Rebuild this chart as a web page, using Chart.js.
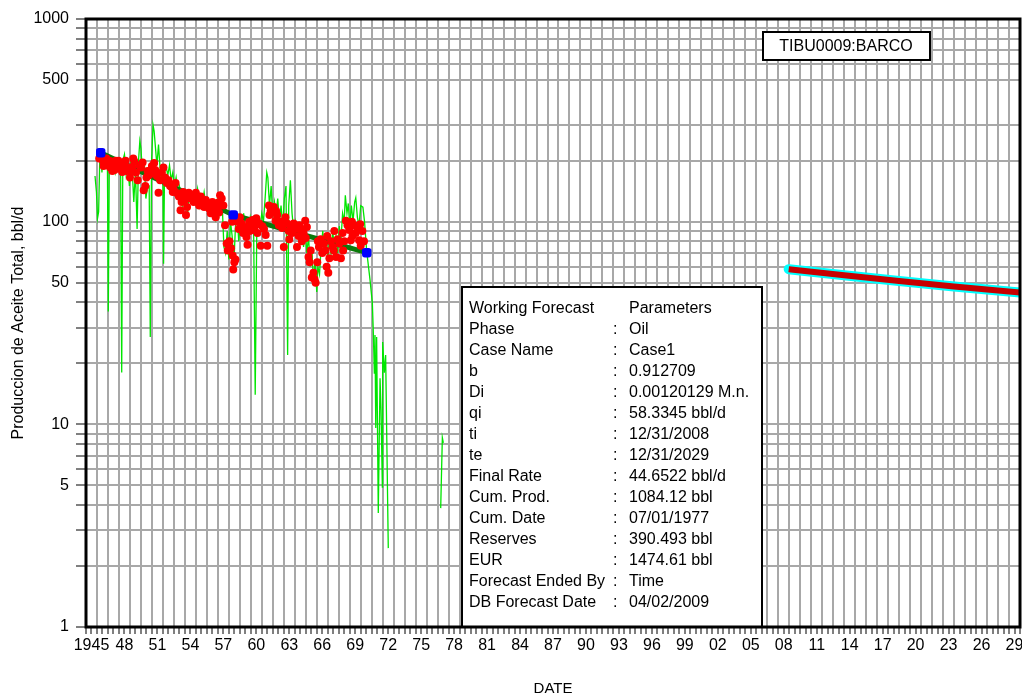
<!DOCTYPE html>
<html>
<head>
<meta charset="utf-8">
<script src="https://cdn.jsdelivr.net/npm/chart.js@4.4.0/dist/chart.umd.min.js"></script>
<style>
html,body{margin:0;padding:0;background:#fff;}
#wrap{width:1022px;height:696px;position:relative;}
</style>
</head>
<body>
<div id="wrap"><canvas id="c"></canvas></div>
<script>
// monthly oil rate, bbl/d  [decimal year, rate]
const oilRate = [
[1945.82,168],[1945.95,140],[1946.05,104],[1946.15,112],[1946.25,200],[1946.35,215],[1946.45,175],[1946.55,210],
[1946.65,190],[1946.8,200],[1946.95,185],[1947.03,36],[1947.12,190],[1947.25,205],[1947.4,185],[1947.55,200],
[1947.7,175],[1947.85,195],[1948.0,180],[1948.15,190],[1948.25,18],[1948.35,200],[1948.5,215],[1948.65,170],
[1948.8,190],[1948.95,150],[1949.1,200],[1949.25,160],[1949.35,125],[1949.5,180],[1949.65,92],[1949.78,200],
[1949.9,250],[1950.0,230],[1950.15,170],[1950.3,200],[1950.45,130],[1950.6,150],[1950.75,150],[1950.85,27],
[1950.97,200],[1951.1,300],[1951.2,280],[1951.3,240],[1951.45,190],[1951.6,240],[1951.75,180],[1951.9,160],
[1952.0,170],[1952.06,62],[1952.15,180],[1952.3,185],[1952.45,170],[1952.6,190],[1952.75,160],[1952.9,175],
[1953.05,150],[1953.2,165],[1953.35,140],[1953.5,150],[1953.65,135],[1953.8,120],[1953.95,140],[1954.1,130],
[1954.25,110],[1954.4,135],[1954.55,140],[1954.7,125],[1954.85,140],[1955.0,130],[1955.15,145],[1955.3,120],
[1955.45,135],[1955.6,125],[1955.75,140],[1955.9,120],[1956.05,130],[1956.2,115],[1956.35,125],[1956.5,110],
[1956.65,120],[1956.8,105],[1956.95,130],[1957.1,110],[1957.25,135],[1957.4,120],[1957.55,75],[1957.7,70],
[1957.85,90],[1958.0,65],[1958.15,100],[1958.3,85],[1958.45,60],[1958.6,95],[1958.75,110],[1958.9,80],
[1959.05,100],[1959.2,95],[1959.35,110],[1959.5,85],[1959.65,100],[1959.8,90],[1959.95,105],[1960.1,95],
[1960.25,100],[1960.4,14],[1960.55,100],[1960.7,105],[1960.85,95],[1961.0,110],[1961.15,100],[1961.3,130],
[1961.45,175],[1961.55,165],[1961.7,120],[1961.85,150],[1962.0,105],[1962.15,125],[1962.3,110],[1962.45,130],
[1962.6,100],[1962.75,120],[1962.9,95],[1963.05,130],[1963.2,150],[1963.35,22],[1963.45,120],[1963.6,160],
[1963.75,110],[1963.9,90],[1964.05,100],[1964.2,85],[1964.35,95],[1964.5,80],[1964.65,100],[1964.8,75],
[1964.95,90],[1965.1,70],[1965.25,85],[1965.4,60],[1965.55,75],[1965.7,50],[1965.85,65],[1966.0,45],
[1966.1,60],[1966.25,55],[1966.4,75],[1966.55,90],[1966.7,70],[1966.85,85],[1967.0,65],[1967.15,80],
[1967.3,70],[1967.45,90],[1967.6,75],[1967.75,85],[1967.9,70],[1968.05,95],[1968.2,80],[1968.35,110],
[1968.5,100],[1968.6,135],[1968.75,110],[1968.87,123],[1969.0,95],[1969.15,120],[1969.3,100],[1969.45,125],
[1969.55,131],[1969.7,105],[1969.85,95],[1970.0,120],[1970.2,118],[1970.35,100],[1970.54,72],[1970.85,51.5],
[1971.06,39.7],[1971.15,28.2],[1971.24,17.9],[1971.3,27.6],[1971.37,9.6],[1971.45,27],[1971.6,3.65],[1971.76,16.9],
[1971.85,11.8],[1971.97,4.9],[1972.0,25.5],[1972.15,18],[1972.27,22],[1972.51,2.45],
[1975.0,null],
[1977.28,3.86],[1977.43,8.6],[1977.52,8.1]
];

// filtered points used for the decline fit
const fitPoints = [
[1946.2,205],[1946.4,212],[1946.55,200],[1946.7,195],[1946.85,205],[1947.0,190],[1947.1,200],[1947.2,185],
[1947.3,198],[1947.45,192],[1947.6,180],[1947.7,200],[1947.85,188],[1948.0,195],[1948.15,182],[1948.3,176],
[1948.45,190],[1948.6,200],[1948.8,185],[1949.0,165],[1949.1,178],[1949.3,205],[1949.4,198],[1949.55,175],
[1949.7,160],[1949.85,190],[1950.0,185],[1950.15,196],[1950.25,143],[1950.4,150],[1950.6,178],[1950.75,170],
[1950.9,180],[1951.05,175],[1951.2,195],[1951.3,180],[1951.45,168],[1951.6,139],[1951.75,160],[1951.9,175],
[1952.05,185],[1952.2,165],[1952.35,155],[1952.5,160],[1952.65,150],[1952.8,148],[1953.0,143],[1953.15,155],
[1953.3,138],[1953.45,133],[1953.6,114],[1953.7,125],[1953.85,140],[1954.0,128],[1954.1,108],[1954.2,118],
[1954.35,139],[1954.5,130],[1954.65,135],[1954.8,125],[1955.0,139],[1955.15,128],[1955.3,120],[1955.45,133],
[1955.6,126],[1955.75,118],[1955.9,128],[1956.05,122],[1956.2,116],[1956.35,110],[1956.5,125],[1956.65,112],
[1956.8,105],[1956.95,118],[1957.1,111],[1957.2,135],[1957.35,130],[1957.5,120],[1957.65,96],[1957.8,78],
[1957.9,72],[1958.05,80],[1958.2,74],[1958.35,68],[1958.5,63],[1958.6,65],[1958.3,100],[1958.55,105],
[1958.75,100],[1958.9,92],[1959.0,105],[1959.15,98],[1959.3,88],[1959.45,94],[1959.6,84],[1959.7,77],
[1959.85,100],[1960.0,97],[1960.15,102],[1960.3,91],[1960.45,96],[1960.6,88],[1960.75,98],[1960.9,76],
[1961.05,95],[1961.2,92],[1961.35,86],[1961.5,76],[1961.65,120],[1961.8,113],[1961.95,111],[1962.1,118],
[1962.25,101],[1962.4,108],[1962.55,96],[1962.7,100],[1962.85,93],[1963.0,75],[1963.15,105],[1963.3,98],
[1963.45,90],[1963.6,95],[1963.75,88],[1963.9,98],[1964.05,92],[1964.2,75],[1964.35,85],[1964.5,92],
[1964.65,80],[1964.8,88],[1964.95,101],[1965.1,94],[1965.25,67],[1965.35,63],[1965.45,72],[1965.55,53],
[1965.7,56],[1965.8,52],[1965.9,50],[1966.05,63],[1966.2,75],[1966.35,82],[1966.5,70],[1966.65,78],
[1966.8,72],[1966.95,85],[1967.05,56],[1967.15,66],[1967.3,80],[1967.45,75],[1967.6,90],[1967.75,67],
[1967.9,82],[1968.05,78],[1968.2,66],[1968.35,88],[1968.5,80],[1968.65,101],[1968.8,96],[1968.95,91],
[1969.1,81],[1969.25,85],[1969.4,96],[1969.55,88],[1969.7,93],[1969.85,81],[1970.0,76],[1970.15,90],[1970.3,80],
[1946.3,208],[1946.6,188],[1947.4,178],[1947.95,200],[1948.7,178],[1949.2,186],[1950.5,165],[1951.0,188],
[1952.9,140],[1953.95,130],[1954.9,136],[1955.55,122],[1956.45,118],[1957.0,124],[1958.4,58],[1959.9,90],
[1960.5,104],[1961.7,108],[1962.3,113],[1963.5,82],[1964.4,96],[1965.0,83],[1966.1,80],[1966.9,60],
[1967.55,72],[1968.4,72],[1969.2,100],[1969.95,97]
];

// decline fit and its anchor points
const fitLine = [[1946.34,219],[1958.4,108],[1970.55,70.3]];
// working forecast, ti 12/31/2008 to te 12/31/2029
const forecast = [[2008.95,58.3],[2014.0,54.4],[2019.0,51.0],[2024.0,47.9],[2030.0,44.65]];

const labelYears = [1945,1948,1951,1954,1957,1960,1963,1966,1969,1972,1975,1978,1981,1984,1987,
  1990,1993,1996,1999,2002,2005,2008,2011,2014,2017,2020,2023,2026,2029];
const labelTexts = ['1945','48','51','54','57','60','63','66','69','72','75','78','81','84','87',
  '90','93','96','99','02','05','08','11','14','17','20','23','26','29'];
const yGridValues = [1,2,3,4,5,6,7,8,9,10,20,30,40,50,60,70,80,90,100,200,300,500,600,700,800,900,1000];
const yLabelValues = [1,5,10,50,100,500,1000];

const infoNames = ['Working Forecast','Phase','Case Name','b','Di','qi','ti','te','Final Rate',
  'Cum. Prod.','Cum. Date','Reserves','EUR','Forecast Ended By','DB Forecast Date'];
const infoValues = ['Parameters','Oil','Case1','0.912709','0.00120129 M.n.','58.3345 bbl/d','12/31/2008',
  '12/31/2029','44.6522 bbl/d','1084.12 bbl','07/01/1977','390.493 bbl','1474.61 bbl','Time','04/02/2009'];
const wellName = 'TIBU0009:BARCO';

const xy = arr => arr.map(p => ({x: p[0], y: p[1]}));
const FONT = '"Liberation Sans", Arial, sans-serif';
Chart.defaults.font.family = FONT;
Chart.defaults.font.size = 16;
Chart.defaults.color = '#000';

const xTicks = [];
for (let i = 0; i <= 170; i++) xTicks.push(1945 + i * 0.5);

const extras = {
  id: 'extras',
  afterDraw(chart) {
    const ctx = chart.ctx, a = chart.chartArea;
    ctx.save();
    // forecast parameter box
    ctx.fillStyle = '#fff';
    ctx.fillRect(462, 287, 300, a.bottom - 287);
    ctx.strokeStyle = '#000';
    ctx.lineWidth = 2;
    ctx.strokeRect(462, 287, 300, a.bottom - 287);
    ctx.fillStyle = '#000';
    ctx.font = '16px ' + FONT;
    ctx.textBaseline = 'middle';
    infoNames.forEach((n, i) => {
      const y = 309 + i * 21;
      ctx.fillText(n, 469, y);
      if (i > 0) ctx.fillText(':', 613, y);
      ctx.fillText(infoValues[i], 629, y);
    });
    // well name box
    ctx.fillStyle = '#fff';
    ctx.fillRect(763, 32, 167, 28);
    ctx.strokeRect(763, 32, 167, 28);
    ctx.fillStyle = '#000';
    ctx.textAlign = 'center';
    ctx.fillText(wellName, 846, 46.5);
    // frame
    ctx.lineWidth = 3;
    ctx.strokeRect(a.left, a.top, a.right - a.left, a.bottom - a.top);
    ctx.restore();
  }
};

new Chart(document.getElementById('c'), {
  type: 'line',
  data: {
    datasets: [
      { data: xy(fitLine), showLine: false, pointStyle: 'rectRounded', pointRadius: 5.5,
        pointBackgroundColor: '#0000ff', pointBorderWidth: 0 },
      { data: xy(fitPoints), showLine: false, pointRadius: 4,
        pointBackgroundColor: '#ff0000', pointBorderWidth: 0 },
      { data: xy(fitLine), borderColor: '#0b7a0b', borderWidth: 5, pointRadius: 0 },
      { data: xy(oilRate), borderColor: '#00e600', borderWidth: 1.3, pointRadius: 0, spanGaps: false },
      { data: xy(forecast), borderColor: '#c80000', borderWidth: 6, pointRadius: 0 },
      { data: xy(forecast), borderColor: '#00ffff', borderWidth: 10, pointRadius: 0, borderCapStyle: 'round' }
    ]
  },
  options: {
    animation: false,
    responsive: true,
    maintainAspectRatio: false,
    layout: { autoPadding: false, padding: { top: 19, right: 2, left: 0, bottom: 0 } },
    plugins: { legend: { display: false }, tooltip: { enabled: false } },
    scales: {
      x: {
        type: 'linear', min: 1945, max: 2030, offset: false,
        afterBuildTicks: s => { s.ticks = xTicks.map(v => ({value: v})); },
        afterFit: s => { s.height = 69; s.paddingRight = 0; s.paddingLeft = 0; },
        border: { display: false },
        grid: {
          color: c => (c.tick && c.tick.value % 1 === 0) ? '#a8a8a8' : 'rgba(0,0,0,0)',
          lineWidth: 2, tickColor: '#000', tickWidth: 1, tickLength: 7
        },
        ticks: {
          autoSkip: false, maxRotation: 0, padding: 2, labelOffset: 5.5,
          callback: v => { const i = labelYears.indexOf(v); return i >= 0 ? labelTexts[i] : ''; }
        },
        title: { display: true, text: 'DATE', font: { size: 15, lineHeight: 1 }, padding: { top: 0, bottom: 0 } }
      },
      y: {
        type: 'logarithmic', min: 1, max: 1000,
        afterBuildTicks: s => { s.ticks = yGridValues.map(v => ({value: v})); },
        afterFit: s => { s.width = 86; s.paddingTop = 0; s.paddingBottom = 0; },
        border: { display: false },
        grid: { color: '#a8a8a8', lineWidth: 2, tickColor: '#000', tickWidth: 1, tickLength: 10 },
        ticks: {
          autoSkip: false, padding: 7,
          callback: v => yLabelValues.includes(v) ? String(v) : ''
        },
        title: { display: true, text: 'Produccion de Aceite Total, bbl/d', padding: { top: 9, bottom: 0 } }
      }
    }
  },
  plugins: [extras]
});
</script>
</body>
</html>
